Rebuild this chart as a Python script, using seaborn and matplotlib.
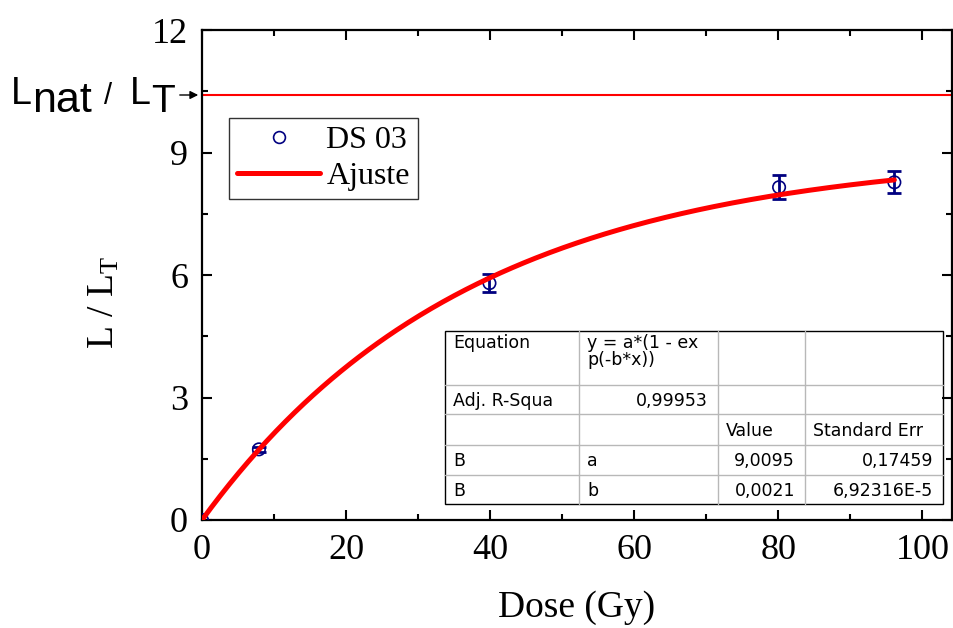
import numpy as np
import pandas as pd
import matplotlib
matplotlib.use("Agg")
import matplotlib.pyplot as plt
import seaborn as sns
from matplotlib.lines import Line2D
from matplotlib.patches import Rectangle, FancyArrowPatch

# Measured luminescence ratio vs. regenerative dose (sample DS 03)
dose = [0.0, 7.9, 39.9, 80.1, 96.1]
ratio = [0.0, 1.73, 5.80, 8.15, 8.27]
ratio_err = [0.0, 0.07, 0.22, 0.30, 0.27]

# Saturating-exponential fit y = a*(1 - exp(-b*t)), t in seconds of irradiation
fit_a = 9.0095
fit_b = 0.0021
sec_per_gy = 12.8

# Natural signal ratio
natural_ratio = 10.4

x_ticks = [0, 20, 40, 60, 80, 100]
y_ticks = [0, 3, 6, 9, 12]

table_rows = [
    ["Equation", "y = a*(1 - ex\np(-b*x))", "", ""],
    ["Adj. R-Squa", "0,99953", "", ""],
    ["", "", "Value", "Standard Err"],
    ["B", "a", "9,0095", "0,17459"],
    ["B", "b", "0,0021", "6,92316E-5"],
]

sns.set_theme(style="ticks")
plt.rcParams["font.family"] = ["Liberation Serif", "DejaVu Serif"]
plt.rcParams["mathtext.fontset"] = "custom"
plt.rcParams["mathtext.rm"] = "Liberation Serif"
plt.rcParams["mathtext.it"] = "Liberation Serif:italic"
plt.rcParams["text.color"] = "black"
plt.rcParams["axes.labelcolor"] = "black"

W, H = 954, 628
fig = plt.figure(figsize=(W / 100, H / 100), dpi=100)
fig.patch.set_facecolor("white")


def fx(px):
    return px / W


def fy(py):
    return 1 - py / H


ax = fig.add_axes([fx(202), fy(520), (952 - 202) / W, (520 - 30) / H])
ax.set_facecolor("white")

navy = "#000080"
red = "#ff0000"

pts = pd.DataFrame({"dose": dose, "ratio": ratio, "err": ratio_err})
ax.errorbar(pts["dose"], pts["ratio"], yerr=pts["err"], fmt="none",
            ecolor=navy, elinewidth=2.0, capsize=5, capthick=2.0, zorder=2)
sns.scatterplot(data=pts, x="dose", y="ratio", ax=ax, marker="o", s=80,
                facecolor="none", edgecolor=navy, linewidth=1.2, zorder=3,
                legend=False)

curve_x = np.linspace(0, max(dose), 300)
curve = pd.DataFrame({
    "dose": curve_x,
    "ratio": fit_a * (1 - np.exp(-fit_b * sec_per_gy * curve_x)),
})
sns.lineplot(data=curve, x="dose", y="ratio", ax=ax, color=red,
             linewidth=3.6, zorder=4, legend=False)

ax.axhline(natural_ratio, color=red, linewidth=1.5, zorder=1)

ax.set_xlim(0, 104.1)
ax.set_ylim(0, 12)
ax.set_xticks(x_ticks)
ax.set_yticks(y_ticks)
ax.set_xticks(np.arange(10, 104, 20), minor=True)
ax.set_yticks(np.arange(1.5, 12, 3), minor=True)
ax.tick_params(which="both", direction="in", top=True, right=True,
               width=1.5, colors="black")
ax.tick_params(which="major", length=7)
ax.tick_params(which="minor", length=4)
ax.tick_params(axis="x", which="major", labelsize=26, pad=10)
ax.tick_params(axis="y", which="major", labelsize=26, pad=10)
for sp in ax.spines.values():
    sp.set_linewidth(1.6)
    sp.set_color("black")

ax.set_xlabel("Dose (Gy)", fontsize=27, color="black")
ax.xaxis.set_label_coords(0.5, (520 - 590) / 490)
ax.set_ylabel(r"L / L$_\mathregular{T}$", fontsize=27, color="black")
ax.yaxis.set_label_coords((122 - 202) / 750, (520 - 303) / 490)

handles = [
    Line2D([], [], marker="o", ls="none", mfc="none", mec=navy, ms=8.5,
           mew=1.2),
    Line2D([], [], color=red, lw=3.6),
]
leg = ax.legend(handles, ["DS 03", "Ajuste"], loc="upper left",
                bbox_to_anchor=((229 - 202) / 750, (520 - 118) / 490),
                borderaxespad=0, fontsize=23, handlelength=2.6,
                handletextpad=0.2, borderpad=0.25, labelspacing=0.2,
                frameon=True, fancybox=False, framealpha=1,
                labelcolor="black")
leg.get_frame().set_edgecolor("#333333")
leg.get_frame().set_linewidth(1.0)

# Natural-signal label with arrow pointing at the axis
sans = ["Liberation Sans", "DejaVu Sans"]
fig.text(fx(11), fy(104), "L", fontsize=27, family=sans, va="baseline")
fig.text(fx(32), fy(112), "nat", fontsize=31, family=sans, va="baseline")
fig.text(fx(104), fy(104), "/", fontsize=21, family=sans, va="baseline")
fig.text(fx(130), fy(104), "L", fontsize=27, family=sans, va="baseline")
fig.text(fx(151), fy(112), "T", fontsize=28, family=sans, va="baseline")
fig.add_artist(FancyArrowPatch(
    (fx(177), fy(95)), (fx(201), fy(95)), transform=fig.transFigure,
    arrowstyle="-|>", mutation_scale=12, color="black", lw=1.0))

# Fit results table
tfont = ["DejaVu Sans"]
col_edges = [445, 579, 718, 805, 943]
row_edges = [331, 385, 414, 445, 475, 504]
grid_gray = "#b8b8b8"
for cx in col_edges[1:-1]:
    fig.add_artist(Line2D([fx(cx), fx(cx)], [fy(row_edges[0]), fy(row_edges[-1])],
                          color=grid_gray, lw=1.0))
for ry in row_edges[1:-1]:
    fig.add_artist(Line2D([fx(col_edges[0]), fx(col_edges[-1])], [fy(ry), fy(ry)],
                          color=grid_gray, lw=1.0))
fig.add_artist(Rectangle((fx(col_edges[0]), fy(row_edges[-1])),
                         fx(col_edges[-1] - col_edges[0]),
                         (row_edges[-1] - row_edges[0]) / H,
                         transform=fig.transFigure, fill=True,
                         facecolor="none", edgecolor="black", lw=1.0))
for r, row in enumerate(table_rows):
    for c, txt in enumerate(row):
        if not txt:
            continue
        numeric = txt[0].isdigit()
        if numeric:
            xpos, ha = col_edges[c + 1] - 10, "right"
        else:
            xpos, ha = col_edges[c] + 8, "left"
        if r == 0:
            ypos, va = row_edges[0] + 3, "top"
        else:
            ypos, va = (row_edges[r] + row_edges[r + 1]) / 2 + 1, "center"
        fig.text(fx(xpos), fy(ypos), txt, fontsize=12.5, family=tfont,
                 ha=ha, va=va, linespacing=0.95, color="black")

fig.savefig("out.png", dpi=100, facecolor="white")
